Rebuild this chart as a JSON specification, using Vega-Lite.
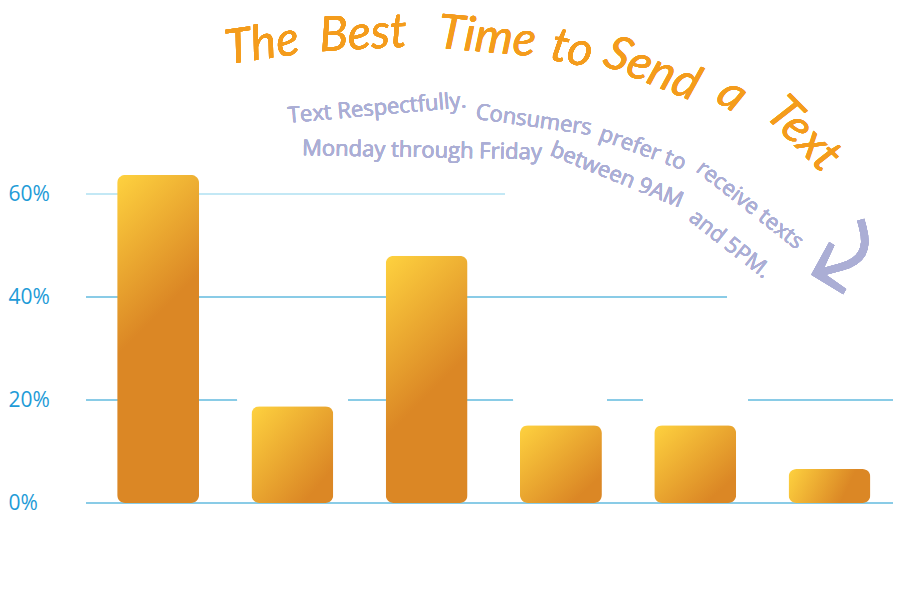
{
  "$schema": "https://vega.github.io/schema/vega-lite/v6.json",
  "autosize": "none",
  "width": 807,
  "height": 503,
  "padding": {"left": 86, "top": 0, "right": 7, "bottom": 105},
  "background": "white",
  "config": {"view": {"stroke": null}},
  "data": {"values": [
    {"slot": "1", "share": 0.637},
    {"slot": "2", "share": 0.188},
    {"slot": "3", "share": 0.48},
    {"slot": "4", "share": 0.151},
    {"slot": "5", "share": 0.151},
    {"slot": "6", "share": 0.066}
  ]},
  "resolve": {"scale": {"x": "independent"}, "axis": {"x": "independent"}},
  "layer": [
    {"mark": {"type": "rule", "color": "#c3e8f5", "strokeWidth": 2},
     "encoding": {"x": {"datum": 0, "type": "quantitative", "scale": {"domain": [0, 6]}, "axis": null}, "x2": {"datum": 3.115}, "y": {"datum": 0.6, "type": "quantitative"}}},
    {"mark": {"type": "rule", "color": "#88cbe6", "strokeWidth": 1},
     "encoding": {"x": {"datum": 0, "type": "quantitative", "scale": {"domain": [0, 6]}, "axis": null}, "x2": {"datum": 4.766}, "y": {"datum": 0.4, "type": "quantitative"}}},
    {"mark": {"type": "rule", "color": "#88cbe6", "strokeWidth": 1},
     "encoding": {"x": {"datum": 0, "type": "quantitative", "scale": {"domain": [0, 6]}, "axis": null}, "x2": {"datum": 1.123}, "y": {"datum": 0.2, "type": "quantitative"}}},
    {"mark": {"type": "rule", "color": "#88cbe6", "strokeWidth": 1},
     "encoding": {"x": {"datum": 1.948, "type": "quantitative", "scale": {"domain": [0, 6]}, "axis": null}, "x2": {"datum": 3.175}, "y": {"datum": 0.2, "type": "quantitative"}}},
    {"mark": {"type": "rule", "color": "#88cbe6", "strokeWidth": 1},
     "encoding": {"x": {"datum": 3.874, "type": "quantitative", "scale": {"domain": [0, 6]}, "axis": null}, "x2": {"datum": 4.141}, "y": {"datum": 0.2, "type": "quantitative"}}},
    {"mark": {"type": "rule", "color": "#88cbe6", "strokeWidth": 1},
     "encoding": {"x": {"datum": 4.922, "type": "quantitative", "scale": {"domain": [0, 6]}, "axis": null}, "x2": {"datum": 6}, "y": {"datum": 0.2, "type": "quantitative"}}},
    {"mark": {"type": "rule", "color": "#88cbe6", "strokeWidth": 1},
     "encoding": {"x": {"datum": 0, "type": "quantitative", "scale": {"domain": [0, 6]}, "axis": null}, "x2": {"datum": 6}, "y": {"datum": 0, "type": "quantitative"}}},
    {"transform": [{"filter": "datum.slot == '1'"}],
     "mark": {"type": "bar", "cornerRadius": 8,
      "fill": {"gradient": "linear", "x1": 0, "y1": 0, "x2": 0.35, "y2": 1.4,
        "stops": [{"offset": 0, "color": "#fed23f"}, {"offset": 0.37, "color": "#db8725"}, {"offset": 1, "color": "#db8725"}]}},
     "encoding": {
       "x": {"field": "slot", "type": "nominal", "axis": null, "scale": {"domain": ["1", "2", "3", "4", "5", "6"], "paddingInner": 0.39, "paddingOuter": 0.2, "align": 0.58}},
       "y": {"field": "share", "type": "quantitative", "scale": {"domain": [0, 0.9767], "nice": false, "zero": true},
         "axis": {"values": [0, 0.2, 0.4, 0.6], "format": ".0%", "grid": false, "domain": false, "ticks": false,
           "labelPadding": 78, "labelAlign": "left", "labelBaseline": "middle", "labelFontSize": 21,
           "labelFont": "Open Sans", "labelColor": "#1e9bd7", "title": null}}
     }},
    {"transform": [{"filter": "datum.slot == '3'"}],
     "mark": {"type": "bar", "cornerRadius": 8,
      "fill": {"gradient": "linear", "x1": 0, "y1": 0, "x2": 0.45, "y2": 1.35,
        "stops": [{"offset": 0, "color": "#fed23f"}, {"offset": 0.49, "color": "#db8725"}, {"offset": 1, "color": "#db8725"}]}},
     "encoding": {
       "x": {"field": "slot", "type": "nominal", "axis": null, "scale": {"domain": ["1", "2", "3", "4", "5", "6"], "paddingInner": 0.39, "paddingOuter": 0.2, "align": 0.58}},
       "y": {"field": "share", "type": "quantitative"}
     }},
    {"transform": [{"filter": "datum.slot == '2' || datum.slot == '4' || datum.slot == '5'"}],
     "mark": {"type": "bar", "cornerRadius": 8,
      "fill": {"gradient": "linear", "x1": 0, "y1": 0, "x2": 1, "y2": 1,
        "stops": [{"offset": 0, "color": "#fed23f"}, {"offset": 0.82, "color": "#db8725"}, {"offset": 1, "color": "#db8725"}]}},
     "encoding": {
       "x": {"field": "slot", "type": "nominal", "axis": null, "scale": {"domain": ["1", "2", "3", "4", "5", "6"], "paddingInner": 0.39, "paddingOuter": 0.2, "align": 0.58}},
       "y": {"field": "share", "type": "quantitative"}
     }},
    {"transform": [{"filter": "datum.slot == '6'"}],
     "mark": {"type": "bar", "cornerRadius": 8,
      "fill": {"gradient": "linear", "x1": 0, "y1": 0, "x2": 1, "y2": 0.2,
        "stops": [{"offset": 0, "color": "#fed23f"}, {"offset": 0.8, "color": "#db8725"}, {"offset": 1, "color": "#db8725"}]}},
     "encoding": {
       "x": {"field": "slot", "type": "nominal", "axis": null, "scale": {"domain": ["1", "2", "3", "4", "5", "6"], "paddingInner": 0.39, "paddingOuter": 0.2, "align": 0.58}},
       "y": {"field": "share", "type": "quantitative"}
     }},
    {"mark": {"type": "text", "font": "Lato", "fontStyle": "italic", "fontSize": 48, "color": "#f49c1c", "angle": -8, "align": "center", "baseline": "middle"},
     "encoding": {"x": {"datum": 1.309, "type": "quantitative", "scale": {"domain": [0, 6]}, "axis": null}, "y": {"datum": 0.889, "type": "quantitative"}, "text": {"value": "The"}}},
    {"mark": {"type": "text", "font": "Lato", "fontStyle": "italic", "fontSize": 48, "color": "#f49c1c", "angle": -3, "align": "center", "baseline": "middle"},
     "encoding": {"x": {"datum": 2.06, "type": "quantitative", "scale": {"domain": [0, 6]}, "axis": null}, "y": {"datum": 0.909, "type": "quantitative"}, "text": {"value": "Best"}}},
    {"mark": {"type": "text", "font": "Lato", "fontStyle": "italic", "fontSize": 48, "color": "#f49c1c", "angle": 5, "align": "center", "baseline": "middle"},
     "encoding": {"x": {"datum": 2.981, "type": "quantitative", "scale": {"domain": [0, 6]}, "axis": null}, "y": {"datum": 0.903, "type": "quantitative"}, "text": {"value": "Time"}}},
    {"mark": {"type": "text", "font": "Lato", "fontStyle": "italic", "fontSize": 48, "color": "#f49c1c", "angle": 12, "align": "center", "baseline": "middle"},
     "encoding": {"x": {"datum": 3.613, "type": "quantitative", "scale": {"domain": [0, 6]}, "axis": null}, "y": {"datum": 0.88, "type": "quantitative"}, "text": {"value": "to"}}},
    {"mark": {"type": "text", "font": "Lato", "fontStyle": "italic", "fontSize": 48, "color": "#f49c1c", "angle": 22, "align": "center", "baseline": "middle"},
     "encoding": {"x": {"datum": 4.208, "type": "quantitative", "scale": {"domain": [0, 6]}, "axis": null}, "y": {"datum": 0.841, "type": "quantitative"}, "text": {"value": "Send"}}},
    {"mark": {"type": "text", "font": "Lato", "fontStyle": "italic", "fontSize": 48, "color": "#f49c1c", "angle": 32, "align": "center", "baseline": "middle"},
     "encoding": {"x": {"datum": 4.803, "type": "quantitative", "scale": {"domain": [0, 6]}, "axis": null}, "y": {"datum": 0.792, "type": "quantitative"}, "text": {"value": "a"}}},
    {"mark": {"type": "text", "font": "Lato", "fontStyle": "italic", "fontSize": 48, "color": "#f49c1c", "angle": 45, "align": "center", "baseline": "middle"},
     "encoding": {"x": {"datum": 5.331, "type": "quantitative", "scale": {"domain": [0, 6]}, "axis": null}, "y": {"datum": 0.715, "type": "quantitative"}, "text": {"value": "Text"}}},
    {"mark": {"type": "text", "font": "Open Sans", "fontSize": 22, "color": "#abaed5", "angle": -5, "align": "center", "baseline": "middle"},
     "encoding": {"x": {"datum": 2.164, "type": "quantitative", "scale": {"domain": [0, 6]}, "axis": null}, "y": {"datum": 0.767, "type": "quantitative"}, "text": {"value": "Text Respectfully."}}},
    {"mark": {"type": "text", "font": "Open Sans", "fontSize": 22, "color": "#abaed5", "angle": 8, "align": "center", "baseline": "middle"},
     "encoding": {"x": {"datum": 3.33, "type": "quantitative", "scale": {"domain": [0, 6]}, "axis": null}, "y": {"datum": 0.744, "type": "quantitative"}, "text": {"value": "Consumers"}}},
    {"mark": {"type": "text", "font": "Open Sans", "fontSize": 22, "color": "#abaed5", "angle": 20, "align": "center", "baseline": "middle"},
     "encoding": {"x": {"datum": 4.14, "type": "quantitative", "scale": {"domain": [0, 6]}, "axis": null}, "y": {"datum": 0.689, "type": "quantitative"}, "text": {"value": "prefer to"}}},
    {"mark": {"type": "text", "font": "Open Sans", "fontSize": 22, "color": "#abaed5", "angle": 38, "align": "center", "baseline": "middle"},
     "encoding": {"x": {"datum": 4.937, "type": "quantitative", "scale": {"domain": [0, 6]}, "axis": null}, "y": {"datum": 0.579, "type": "quantitative"}, "text": {"value": "receive texts"}}},
    {"mark": {"type": "text", "font": "Open Sans", "fontSize": 22, "color": "#abaed5", "angle": 1, "align": "center", "baseline": "middle"},
     "encoding": {"x": {"datum": 2.498, "type": "quantitative", "scale": {"domain": [0, 6]}, "axis": null}, "y": {"datum": 0.685, "type": "quantitative"}, "text": {"value": "Monday through Friday"}}},
    {"mark": {"type": "text", "font": "Open Sans", "fontSize": 22, "color": "#abaed5", "angle": 22, "align": "center", "baseline": "middle"},
     "encoding": {"x": {"datum": 3.948, "type": "quantitative", "scale": {"domain": [0, 6]}, "axis": null}, "y": {"datum": 0.637, "type": "quantitative"}, "text": {"value": "between 9AM"}}},
    {"mark": {"type": "text", "font": "Open Sans", "fontSize": 22, "color": "#abaed5", "angle": 38, "align": "center", "baseline": "middle"},
     "encoding": {"x": {"datum": 4.788, "type": "quantitative", "scale": {"domain": [0, 6]}, "axis": null}, "y": {"datum": 0.503, "type": "quantitative"}, "text": {"value": "and 5PM."}}},
    {"mark": {"type": "text", "font": "DejaVu Sans", "fontSize": 132, "color": "#abaed5", "angle": -15, "align": "center", "baseline": "middle"},
     "encoding": {"x": {"datum": 5.606, "type": "quantitative", "scale": {"domain": [0, 6]}, "axis": null}, "y": {"datum": 0.488, "type": "quantitative"}, "text": {"value": "⤶"}}}
  ]
}
